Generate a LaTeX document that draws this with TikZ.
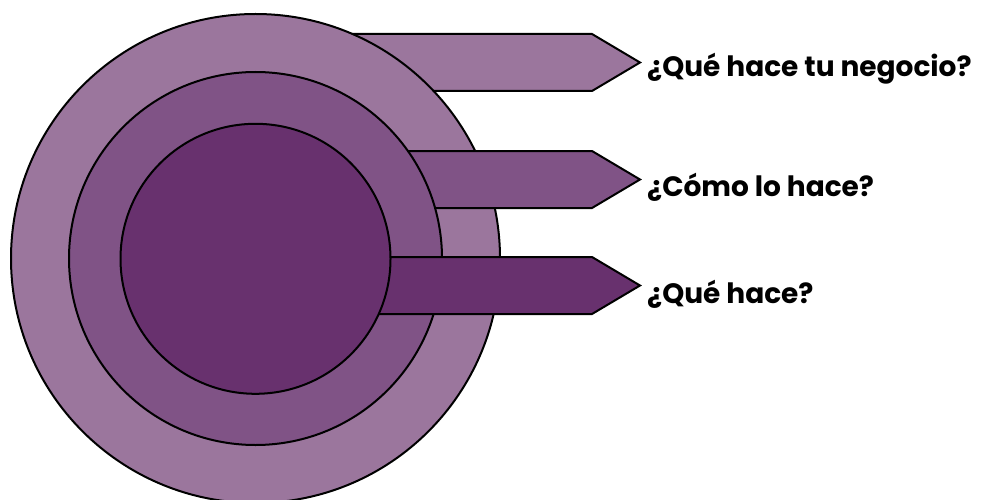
\documentclass[tikz,border=0pt]{standalone}
\usepackage{fontspec}
\setmainfont{Poppins}
\definecolor{cOuter}{HTML}{9B769D}
\definecolor{cMid}{HTML}{805386}
\definecolor{cInner}{HTML}{68316E}
\begin{document}
\begin{tikzpicture}[x=1pt,y=-1pt,
  shp/.style={draw=black,line width=2pt,line join=miter},
  lbl/.style={anchor=base west,inner sep=0pt,font=\fontsize{28}{33}\selectfont\bfseries}]
\useasboundingbox (0,0) rectangle (984,500);
% top arrow (behind outer circle)
\fill[shp,fill=cOuter] (300,34) -- (592,34) -- (640,62.5) -- (592,91) -- (300,91) -- cycle;
\fill[shp,fill=cOuter] (255.5,258.5) circle (244.5);
% middle arrow
\fill[shp,fill=cMid] (300,151) -- (592,151) -- (640,179.5) -- (592,208) -- (300,208) -- cycle;
\fill[shp,fill=cMid] (255.5,258.5) circle (186.5);
% bottom arrow
\fill[shp,fill=cInner] (300,257) -- (592,257) -- (640,285.5) -- (592,314) -- (300,314) -- cycle;
\fill[shp,fill=cInner] (255.5,258.8) circle (135);
% labels
\node[lbl] (q1) at (647,77) {¿Qué hace tu negocio?};
\node[lbl] (q2) at (647,196.5) {¿Cómo lo hace?};
\node[lbl] (q3) at (647,303) {¿Qué hace?};
\end{tikzpicture}
\end{document}
